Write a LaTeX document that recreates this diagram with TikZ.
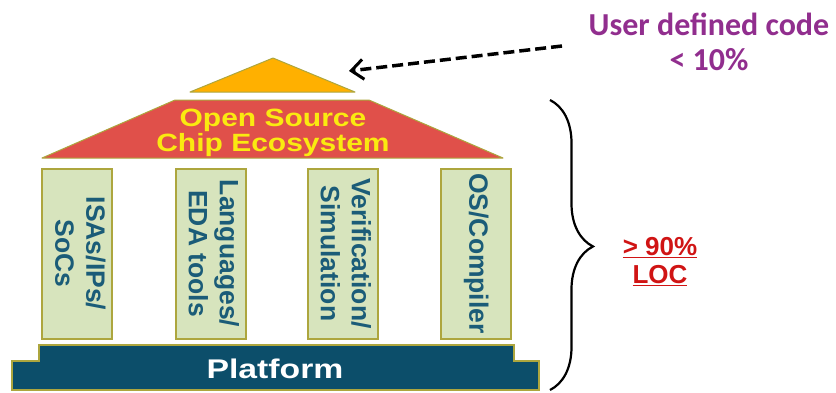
\documentclass[tikz,border=0pt]{standalone}
\usepackage{fontspec}
\setmainfont{Liberation Sans}
\newfontfamily\calibri{Carlito}
\usetikzlibrary{arrows.meta,decorations.pathreplacing}
\definecolor{roofred}{HTML}{E0504A}
\definecolor{rooforange}{HTML}{FFB000}
\definecolor{olive}{HTML}{ADA63E}
\definecolor{pillarfill}{HTML}{D7E4BD}
\definecolor{pillartext}{HTML}{1B5C78}
\definecolor{platblue}{HTML}{0C4E6A}
\definecolor{roofyellow}{HTML}{FAEA10}
\definecolor{userpurple}{HTML}{912E8E}
\definecolor{locred}{HTML}{D01414}
\tikzset{
  pillar/.style={draw=olive, line width=2pt, fill=pillarfill, minimum width=70pt, minimum height=170pt, inner sep=0pt, text=pillartext, font=\fontsize{26.5}{31}\selectfont\bfseries},
}
\newcommand{\pilltext}[1]{\rotatebox{-90}{\begin{tabular}{@{}c@{}}#1\end{tabular}}}
\begin{document}
\begin{tikzpicture}[x=1pt,y=-1pt]
\useasboundingbox (0,0) rectangle (836,392);
% small top triangle
\draw[olive, line width=1pt, fill=rooforange, line join=round] (190,92) -- (273,58) -- (355,92) -- cycle;
% roof trapezoid
\draw[olive, line width=1pt, fill=roofred, line join=round] (175,100) -- (369,100) -- (503,158) -- (42,158) -- cycle;
\node[text=roofyellow, align=center, inner sep=0pt, font=\fontsize{25}{25}\selectfont\bfseries] (roof) at (273,133)
  {\scalebox{1.2}[1]{Open Source}\\\scalebox{1.2}[1]{Chip Ecosystem}};
% pillars
\node[pillar] (p1) at (77,253.5) {\pilltext{ISAs/IPs/\\SoCs}};
\node[pillar] (p2) at (210.5,253.5) {\pilltext{Languages/\\EDA tools}};
\node[pillar] (p3) at (342.5,253.5) {\pilltext{Verification/\\Simulation}};
\node[pillar] (p4) at (475.5,253.5) {\pilltext{OS/Compiler}};
% platform
\draw[olive, line width=1.5pt, fill=platblue] (39,345) -- (514,345) -- (514,361) -- (539,361) -- (539,390) -- (12,390) -- (12,361) -- (39,361) -- cycle;
\node[text=white, inner sep=0pt, font=\fontsize{27}{27}\selectfont\bfseries] (plat) at (275,369) {\scalebox{1.25}[1]{Platform}};
% user defined code
\node[text=userpurple, align=center, inner sep=0pt, font=\calibri\fontsize{32}{35}\selectfont\bfseries] (user) at (709,42)
  {User defined code\\< 10\%};
\coordinate (arrstart) at (562,46);
\coordinate (arrend) at (349,71);
\draw[line width=3.5pt, dash pattern=on 11pt off 5pt, -{Straight Barb[length=12pt,width=20pt,line width=3pt]}] (arrstart) -- (arrend);
% brace
\coordinate (bracetop) at (550,100);
\coordinate (bracebot) at (550,390);
\draw[line width=2.2pt, decorate, decoration={brace, amplitude=43pt, aspect=0.505}] (bracetop) -- (bracebot);
\node[text=locred, align=center, inner sep=0pt, font=\fontsize{26}{28}\selectfont\bfseries] (loc) at (660,262)
  {\underline{> 90\%}\\\underline{LOC}};
\end{tikzpicture}
\end{document}
